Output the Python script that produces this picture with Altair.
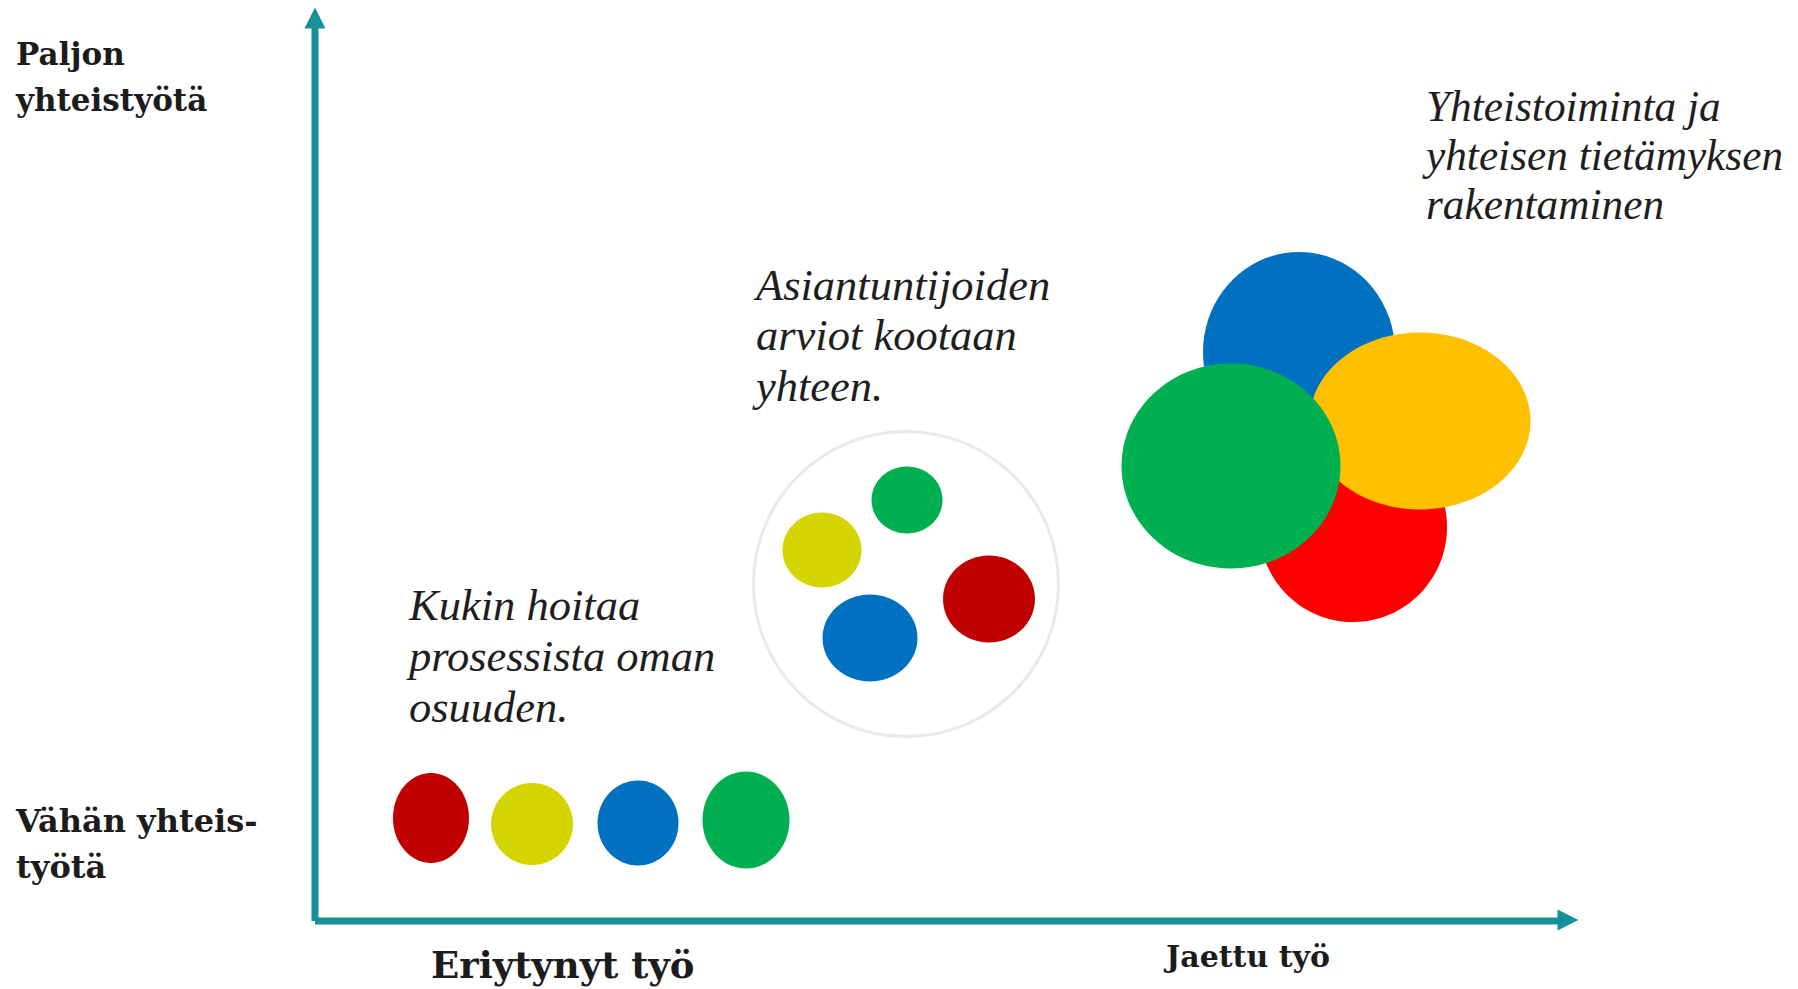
import altair as alt
import pandas as pd

# ---- diagram coordinate frame (page pixels) ----
X_DOMAIN = [8, 1790]
Y_DOMAIN = [8, 989]
PLOT_W, PLOT_H = 1782, 981

# ---- coloured blobs (ellipses) ----
blob_group = ["erillinen"] * 4 + ["koottu"] * 4 + ["yhteinen"] * 4
blob_x = [431, 532, 638, 746, 907, 822, 989, 870, 1299, 1353, 1420, 1231]
blob_y = [818, 824, 823, 820, 500, 550, 599, 638, 352, 527, 421, 466]
blob_w = [76, 82, 81, 87, 71, 79, 92, 95, 192, 188, 221, 219]
blob_h = [90, 82, 85, 97, 67, 75, 87, 87, 200, 190, 177, 205]
blob_color = ["#c00000", "#d4d400", "#0070c0", "#00b050",
              "#00b050", "#d4d400", "#c00000", "#0070c0",
              "#0070c0", "#ff0000", "#ffc000", "#00b050"]

# ---- light ring around the middle group ----
ring_x = [906]
ring_y = [584]
ring_d = [305]

# ---- axes (arrows) ----
axis_x = [315, 315]
axis_x2 = [315, 1560]
axis_y = [28, 921]
axis_y2 = [921, 921]
head_x = [315, 1568]
head_y = [18, 920]
head_dir = ["up", "right"]

# ---- texts ----
italic_lines = ["Kukin hoitaa", "prosessista oman", "osuuden.",
                "Asiantuntijoiden", "arviot kootaan", "yhteen.",
                "Yhteistoiminta ja", "yhteisen tietämyksen", "rakentaminen"]
italic_x = [409, 409, 409, 756, 756, 756, 1426, 1426, 1426]
italic_y = [620, 671, 722, 300, 350, 401, 121, 170, 219]
italic_size = [44.5, 44.5, 44.5, 44.5, 44.5, 44.5, 43.3, 43.3, 43.3]

bold_lines = ["Paljon", "yhteistyötä", "Vähän yhteis-", "työtä",
              "Eriytynyt työ", "Jaettu työ"]
bold_x = [16, 16, 16, 16, 431, 1166]
bold_y = [65, 111, 832, 878, 978, 967]
bold_size = [31, 31, 32, 32, 37, 30]

TEAL = "#16909a"
K = 0.5523


def ellipse_path(w, h):
    m = max(w, h)
    a, b = w / m, h / m
    ka, kb = K * a, K * b
    f = lambda v: f"{v:.4f}"
    return (f"M {f(a)} 0 C {f(a)} {f(kb)} {f(ka)} {f(b)} 0 {f(b)} "
            f"C {f(-ka)} {f(b)} {f(-a)} {f(kb)} {f(-a)} 0 "
            f"C {f(-a)} {f(-kb)} {f(-ka)} {f(-b)} 0 {f(-b)} "
            f"C {f(ka)} {f(-b)} {f(a)} {f(-kb)} {f(a)} 0 Z")


blobs = pd.DataFrame({
    "group": blob_group, "x": blob_x, "y": blob_y,
    "w": blob_w, "h": blob_h, "color": blob_color,
})
blobs["shape"] = [ellipse_path(w, h) for w, h in zip(blob_w, blob_h)]
blobs["size"] = [max(w, h) ** 2 for w, h in zip(blob_w, blob_h)]
blobs["order"] = range(len(blobs))

ring = pd.DataFrame({"x": ring_x, "y": ring_y, "d": ring_d})
ring["shape"] = [ellipse_path(d, d) for d in ring_d]
ring["size"] = [d ** 2 for d in ring_d]

axes = pd.DataFrame({"x": axis_x, "x2": axis_x2, "y": axis_y, "y2": axis_y2})
heads = pd.DataFrame({"x": head_x, "y": head_y, "dir": head_dir})
heads["shape"] = ["M 0 -1 L 1 1 L -1 1 Z" if d == "up" else "M 1 0 L -1 -1 L -1 1 Z"
                  for d in head_dir]

itext = pd.DataFrame({"text": italic_lines, "x": italic_x, "y": italic_y,
                      "fs": italic_size})
btext = pd.DataFrame({"text": bold_lines, "x": bold_x, "y": bold_y, "fs": bold_size})

xs = alt.Scale(domain=X_DOMAIN, nice=False, zero=False)
ys = alt.Scale(domain=Y_DOMAIN, nice=False, zero=False, reverse=True)
X = lambda f="x": alt.X(f"{f}:Q", scale=xs, axis=None)
Y = lambda f="y": alt.Y(f"{f}:Q", scale=ys, axis=None)

ring_layer = alt.Chart(ring).mark_point(
    filled=False, stroke="#e9e9e9", strokeWidth=3, opacity=1
).encode(x=X(), y=Y(),
         shape=alt.Shape("shape:N", scale=None),
         size=alt.Size("size:Q", scale=None))

blob_layer = alt.Chart(blobs).mark_point(
    filled=True, opacity=1, strokeWidth=0
).encode(x=X(), y=Y(),
         shape=alt.Shape("shape:N", scale=None),
         size=alt.Size("size:Q", scale=None),
         color=alt.Color("color:N", scale=None),
         order=alt.Order("order:Q"))

axis_layer = alt.Chart(axes).mark_rule(
    color=TEAL, strokeWidth=7, strokeCap="butt"
).encode(x=X(), x2="x2:Q", y=Y(), y2="y2:Q")

head_layer = alt.Chart(heads).mark_point(
    filled=True, opacity=1, color=TEAL, strokeWidth=0, size=21 * 21
).encode(x=X(), y=Y(), shape=alt.Shape("shape:N", scale=None))

italic_layer = alt.Chart(itext).mark_text(
    align="left", baseline="alphabetic", font="Liberation Serif",
    fontStyle="italic", color="#1e1e1e"
).encode(x=X(), y=Y(), text="text:N",
         size=alt.Size("fs:Q", scale=None))

bold_layer = alt.Chart(btext).mark_text(
    align="left", baseline="alphabetic", font="DejaVu Serif",
    fontWeight="bold", color="#1c1c1c"
).encode(x=X(), y=Y(), text="text:N",
         size=alt.Size("fs:Q", scale=None))

chart = alt.layer(
    ring_layer, blob_layer, axis_layer, head_layer, italic_layer, bold_layer
).properties(
    width=PLOT_W, height=PLOT_H, padding=0,
    autosize=alt.AutoSizeParams(type="none"),
    background="white",
).configure_view(strokeWidth=0)

chart.save("out.html", embed_options={"renderer": "svg", "actions": False})
